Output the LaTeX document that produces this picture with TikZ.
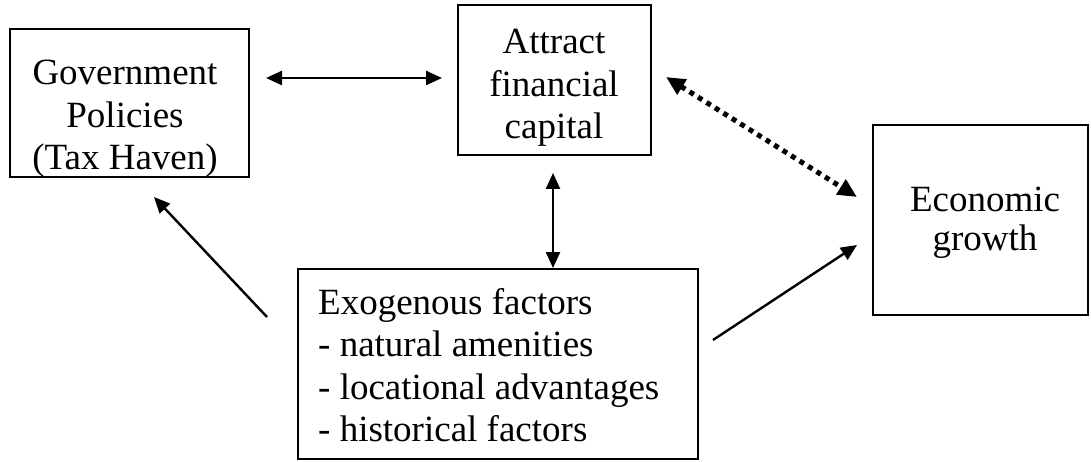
\documentclass[tikz,border=0pt]{standalone}
\usepackage{fontspec}
\setmainfont{Liberation Serif}
\usetikzlibrary{arrows.meta}
\begin{document}
\begin{tikzpicture}[x=1pt,y=1pt,
  boxnode/.style={draw=black, line width=2.2pt, rectangle, inner sep=0pt},
  txt/.style={inner sep=0pt, font=\fontsize{37}{42.5}\selectfont},
  solidarrow/.style={line width=2.4pt, -{Triangle[length=16pt,width=14pt]}},
  bothsolid/.style={line width=2.4pt, {Triangle[length=16pt,width=14pt]}-{Triangle[length=16pt,width=14pt]}},
  dotarrow/.style={line width=5pt, dash pattern=on 5pt off 5pt, {Triangle[length=19pt,width=17pt]}-{Triangle[length=19pt,width=17pt]}}
]
\useasboundingbox (0,0) rectangle (1091,461);
\fill[white] (0,0) rectangle (1091,461);

% boxes
\node[boxnode, minimum width=239pt, minimum height=148pt] (gov) at (129.5,358) {};
\node[boxnode, minimum width=193pt, minimum height=150pt] (att) at (554.5,381) {};
\node[boxnode, minimum width=215pt, minimum height=190pt] (eco) at (980.5,241) {};
\node[boxnode, minimum width=400pt, minimum height=190pt] (exo) at (498,97) {};

% texts
\node[txt, align=center, anchor=north] (govt) at (125,401) {Government\\Policies\\(Tax Haven)};
\node[txt, align=center, anchor=north] (attt) at (554,432) {Attract\\financial\\capital};
\node[txt, align=center, anchor=north, font=\fontsize{37}{39}\selectfont] (ecot) at (985,274) {Economic\\growth};
\node[txt, align=left, anchor=north west] (exot) at (318,173) {Exogenous factors\\- natural amenities\\- locational advantages\\- historical factors};

% arrow end points
\coordinate (ga) at (266,383);
\coordinate (ag) at (442,383);
\coordinate (ae) at (553,288);
\coordinate (ea) at (553,193);
\coordinate (ad) at (666,384);
\coordinate (da) at (857,264);
\coordinate (xg) at (267,144);
\coordinate (gx) at (154,264);
\coordinate (xe) at (713,121);
\coordinate (ex) at (857,216);

% connectors
\draw[bothsolid] (ga) -- (ag);
\draw[bothsolid] (ae) -- (ea);
\draw[dotarrow] (ad) -- (da);
\draw[solidarrow] (xg) -- (gx);
\draw[solidarrow] (xe) -- (ex);
\end{tikzpicture}
\end{document}
